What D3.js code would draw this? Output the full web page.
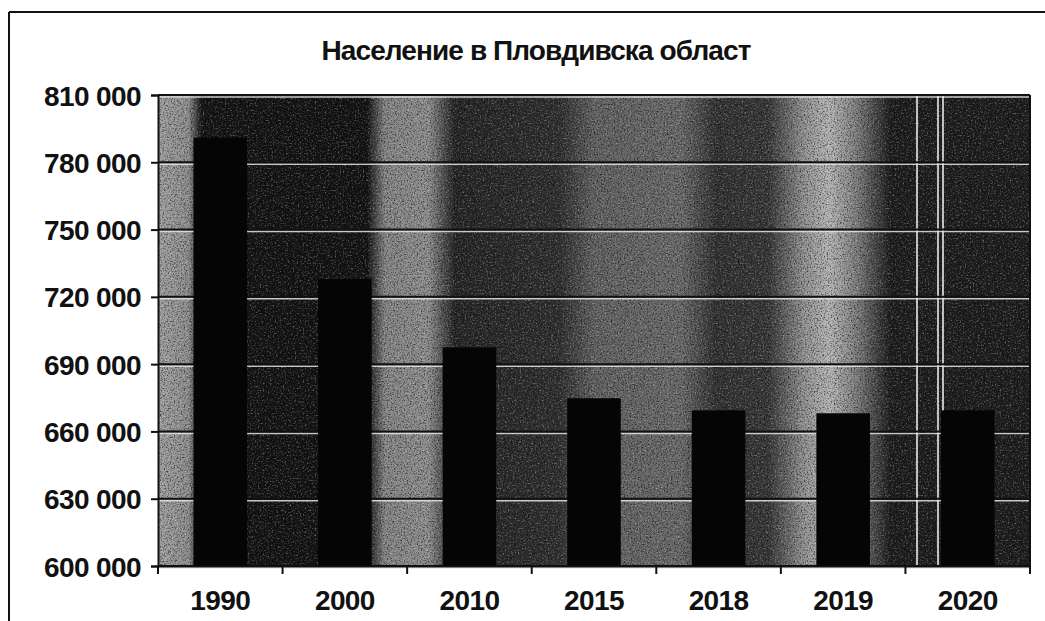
<!DOCTYPE html>
<html>
<head>
<meta charset="utf-8">
<script src="https://cdn.jsdelivr.net/npm/d3@7"></script>
<style>
  html, body { margin: 0; padding: 0; background: #fff; }
  svg { display: block; }
  text { font-family: "Liberation Sans", Arial, sans-serif; font-weight: bold; fill: #111; }
</style>
</head>
<body>
<svg id="chart" width="1045" height="621"></svg>
<script>
// ---- data ----
const title = "Население в Пловдивска област";
const categories = ["1990", "2000", "2010", "2015", "2018", "2019", "2020"];
const population = [791000, 728000, 697500, 674800, 669400, 668100, 669400];
const yTicks = [600000, 630000, 660000, 690000, 720000, 750000, 780000, 810000];
const yDomain = [600000, 810000];

// ---- layout ----
const W = 1045, H = 621;
const plot = { left: 158, right: 1030, top: 95, bottom: 566 };

const svg = d3.select("#chart");
const defs = svg.append("defs");

// scanned-paper background texture (decoration only)
const grad = defs.append("linearGradient").attr("id", "bgGrad")
  .attr("x1", "0").attr("x2", "1").attr("y1", "0").attr("y2", "0");
[
  [0.00, "#a0a0a0"], [0.035, "#8e8e8e"], [0.05, "#151515"], [0.24, "#141414"],
  [0.26, "#858585"], [0.31, "#8e8e8e"], [0.34, "#262626"], [0.46, "#303030"],
  [0.50, "#626262"], [0.60, "#6a6a6a"], [0.64, "#333333"], [0.70, "#383838"],
  [0.74, "#909090"], [0.77, "#b4b4b4"], [0.80, "#808080"], [0.84, "#1e1e1e"],
  [1.00, "#1e1e1e"]
].forEach(([o, c]) => grad.append("stop").attr("offset", o).attr("stop-color", c));

const noiseDark = defs.append("filter").attr("id", "noiseDark")
  .attr("x", 0).attr("y", 0).attr("width", "100%").attr("height", "100%");
noiseDark.append("feTurbulence").attr("type", "fractalNoise")
  .attr("baseFrequency", "0.7").attr("numOctaves", 2).attr("seed", 3);
noiseDark.append("feColorMatrix").attr("type", "matrix")
  .attr("values", "0 0 0 0 0  0 0 0 0 0  0 0 0 0 0  -3 0 0 0 1.55");

const noiseLight = defs.append("filter").attr("id", "noiseLight")
  .attr("x", 0).attr("y", 0).attr("width", "100%").attr("height", "100%");
noiseLight.append("feTurbulence").attr("type", "fractalNoise")
  .attr("baseFrequency", "0.6").attr("numOctaves", 2).attr("seed", 11);
noiseLight.append("feColorMatrix").attr("type", "matrix")
  .attr("values", "0 0 0 0 1  0 0 0 0 1  0 0 0 0 1  3 0 0 0 -1.6");

const x = d3.scaleBand().domain(categories)
  .range([plot.left, plot.right]).paddingInner(0.57).paddingOuter(0.285);
const y = d3.scaleLinear().domain(yDomain).range([plot.bottom, plot.top]);

// outer chart frame
svg.append("line").attr("x1", 9).attr("x2", 9).attr("y1", 12).attr("y2", H)
  .attr("stroke", "#111").attr("stroke-width", 2);
svg.append("line").attr("x1", 9).attr("x2", W).attr("y1", 12).attr("y2", 12)
  .attr("stroke", "#111").attr("stroke-width", 2);

// plot background
const bg = svg.append("g");
bg.append("rect").attr("x", plot.left).attr("y", plot.top)
  .attr("width", plot.right - plot.left).attr("height", plot.bottom - plot.top)
  .attr("fill", "url(#bgGrad)");
bg.append("rect").attr("x", plot.left).attr("y", plot.top)
  .attr("width", plot.right - plot.left).attr("height", plot.bottom - plot.top)
  .attr("fill", "#000").attr("filter", "url(#noiseDark)").attr("opacity", 0.6);
bg.append("rect").attr("x", plot.left).attr("y", plot.top)
  .attr("width", plot.right - plot.left).attr("height", plot.bottom - plot.top)
  .attr("fill", "#fff").attr("filter", "url(#noiseLight)").attr("opacity", 0.35);
// a few bright scan streaks
[917, 938, 943].forEach(sx => bg.append("line")
  .attr("x1", sx).attr("x2", sx).attr("y1", plot.top).attr("y2", plot.bottom)
  .attr("stroke", "#e8e8e8").attr("stroke-width", 2).attr("opacity", 0.8));

// gridlines
const grid = svg.append("g");
grid.selectAll("line.g1").data(yTicks).join("line").attr("class", "g1")
  .attr("x1", plot.left).attr("x2", plot.right)
  .attr("y1", d => y(d) + 2).attr("y2", d => y(d) + 2)
  .attr("stroke", "#e6e6e6").attr("stroke-width", 1.5).attr("opacity", 0.85);
grid.selectAll("line.g2").data(yTicks).join("line").attr("class", "g2")
  .attr("x1", plot.left).attr("x2", plot.right)
  .attr("y1", d => y(d)).attr("y2", d => y(d))
  .attr("stroke", "#111").attr("stroke-width", 2);

// bars
svg.append("g").selectAll("rect").data(categories).join("rect")
  .attr("x", d => x(d))
  .attr("y", (d, i) => y(population[i]))
  .attr("width", x.bandwidth())
  .attr("height", (d, i) => y(yDomain[0]) - y(population[i]))
  .attr("fill", "#050505");

// right border of plot
svg.append("line").attr("x1", plot.right).attr("x2", plot.right)
  .attr("y1", plot.top).attr("y2", plot.bottom)
  .attr("stroke", "#111").attr("stroke-width", 2);

// axes
const locale = d3.formatLocale({ decimal: ",", thousands: " ", grouping: [3], currency: ["", ""] });
const fmt = locale.format(",d");

const yAxis = svg.append("g").attr("transform", `translate(${plot.left},0)`)
  .call(d3.axisLeft(y).tickValues(yTicks).tickFormat(fmt).tickSize(7).tickPadding(10));
yAxis.select(".domain").attr("stroke", "#111").attr("stroke-width", 2);
yAxis.selectAll(".tick line").attr("stroke", "#111").attr("stroke-width", 2);
yAxis.selectAll(".tick text").attr("font-size", 28).attr("letter-spacing", "-0.6")
  .attr("fill", "#111").attr("dy", "0.36em").attr("font-family", "Liberation Sans, Arial, sans-serif");

const xAxis = svg.append("g").attr("transform", `translate(0,${plot.bottom})`)
  .call(d3.axisBottom(x).tickSize(0).tickPadding(24));
xAxis.select(".domain").attr("stroke", "#111").attr("stroke-width", 2);
xAxis.selectAll(".tick text").attr("font-size", 28).attr("letter-spacing", "-0.6")
  .attr("fill", "#111").attr("font-family", "Liberation Sans, Arial, sans-serif");
// category boundary ticks
const bounds = categories.map(c => x(c) - x.step() * x.paddingInner() / 2).concat([plot.right]);
bounds[0] = plot.left;
xAxis.selectAll("line.bt").data(bounds).join("line").attr("class", "bt")
  .attr("x1", d => d).attr("x2", d => d).attr("y1", 0).attr("y2", 8)
  .attr("stroke", "#111").attr("stroke-width", 2);

// title
svg.append("text").attr("x", 536).attr("y", 60).attr("text-anchor", "middle")
  .attr("font-size", 28).attr("letter-spacing", "-0.9").text(title);
</script>
</body>
</html>
